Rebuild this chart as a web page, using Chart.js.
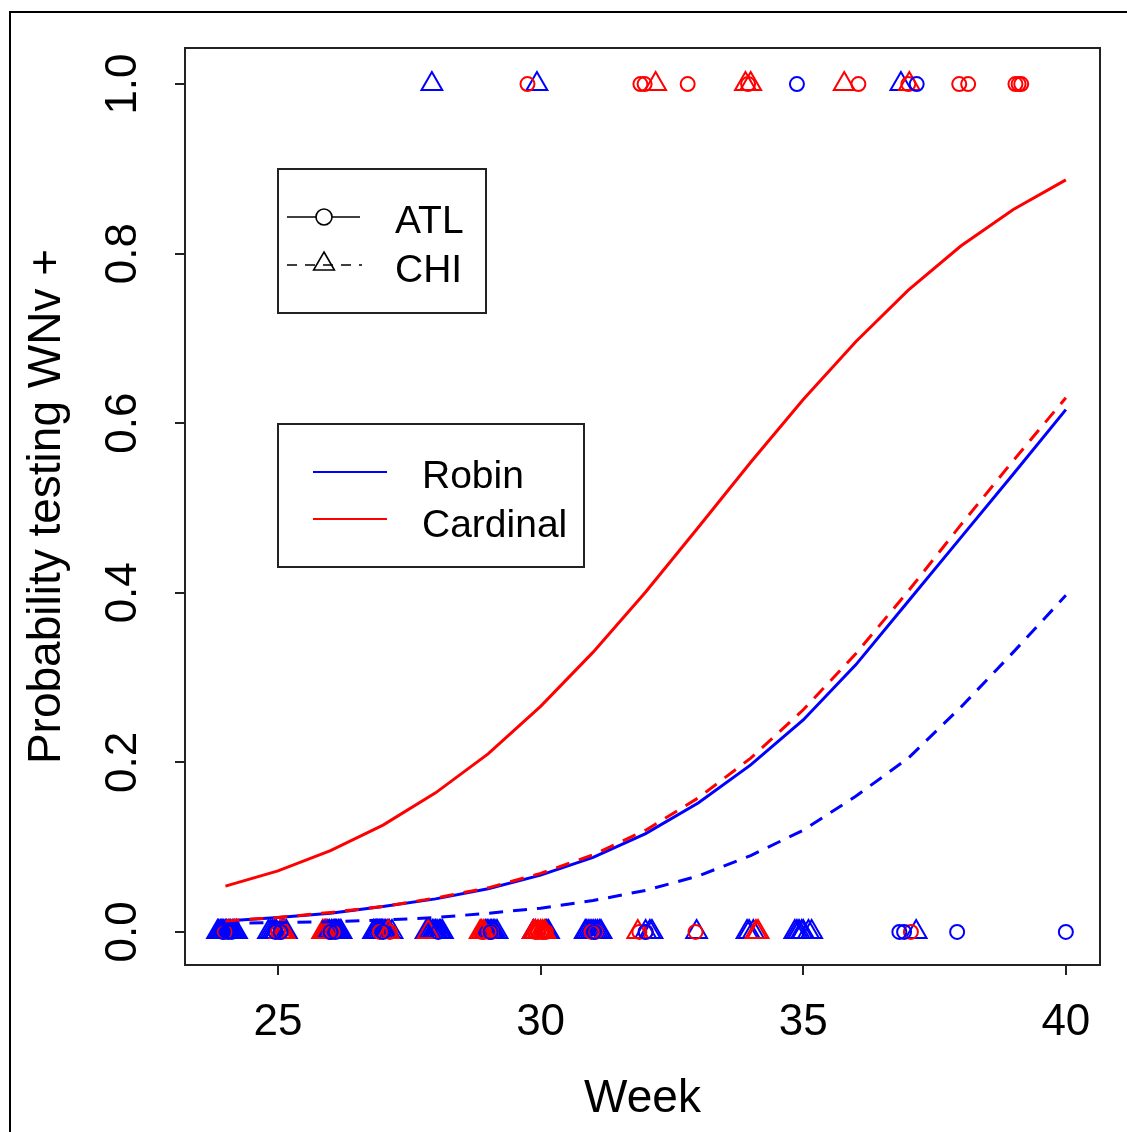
<!DOCTYPE html>
<html>
<head>
<meta charset="utf-8">
<script src="https://cdn.jsdelivr.net/npm/chart.js@4.4.1/dist/chart.umd.min.js"></script>
<style>
  html, body { margin: 0; padding: 0; background: #fff; overflow: hidden; }
  #frame { position: absolute; left: 9px; top: 11px; width: 1200px; height: 1200px; border: 2px solid #000; }
  #wrap { position: absolute; left: 0; top: 0; width: 1127px; height: 1132px; }
</style>
</head>
<body>
<div id="frame"></div>
<div id="wrap"><canvas id="chart"></canvas></div>
<script>
// fitted curves, one value per week
const weeks = [24, 25, 26, 27, 28, 29, 30, 31, 32, 33, 34, 35, 36, 37, 38, 39, 40];
const robinAtl    = [0.013, 0.017, 0.022, 0.030, 0.039, 0.051, 0.067, 0.088, 0.116, 0.152, 0.197, 0.250, 0.315, 0.390, 0.465, 0.540, 0.616];
const robinChi    = [0.010, 0.011, 0.012, 0.014, 0.017, 0.022, 0.028, 0.037, 0.049, 0.066, 0.090, 0.120, 0.160, 0.205, 0.265, 0.330, 0.397];
const cardinalAtl = [0.054, 0.072, 0.096, 0.126, 0.164, 0.210, 0.266, 0.330, 0.401, 0.477, 0.554, 0.628, 0.696, 0.757, 0.809, 0.852, 0.887];
const cardinalChi = [0.013, 0.017, 0.023, 0.030, 0.040, 0.052, 0.069, 0.091, 0.120, 0.158, 0.205, 0.262, 0.328, 0.402, 0.480, 0.556, 0.630];

// observed birds (jittered week), positives and negatives
const robinAtlPos    = [34.88, 37.16];
const robinAtlNeg    = [23.95, 24.05, 24.12, 24.95, 25.05, 26.0, 26.1, 27.0, 28.05, 29.05, 31.02, 32.0, 36.83, 36.92, 37.93, 40.0];
const robinChiPos    = [27.93, 29.93, 36.86];
const robinChiNeg    = [23.85, 23.87, 23.9, 23.92, 23.95, 23.97, 24.0, 24.02, 24.05, 24.07, 24.1, 24.13, 24.16, 24.18, 24.21,
                        24.82, 24.86, 24.9, 24.94, 24.97, 25.08, 25.1, 25.13, 25.16,
                        25.9, 25.95, 25.98, 26.02, 26.05, 26.08, 26.1, 26.12, 26.15, 26.18, 26.2,
                        26.82, 26.85, 26.88, 26.9, 26.94, 26.98, 27.02, 27.05, 27.08, 27.12, 27.17,
                        27.82, 27.85, 27.88, 27.9, 27.94, 27.97, 28.0, 28.03, 28.07, 28.1, 28.13,
                        28.95, 28.98, 29.0, 29.04, 29.07, 29.1, 29.13, 29.17,
                        29.86, 29.9, 30.1, 30.12, 30.15,
                        30.85, 30.88, 30.92, 30.96, 31.0, 31.04, 31.08, 31.12, 31.15,
                        32.0, 32.08, 32.12, 32.97, 33.93, 33.97, 34.05,
                        34.84, 34.88, 34.92, 34.97, 35.0, 35.1, 35.16, 37.15];
const cardinalAtlPos = [29.75, 31.9, 31.98, 32.8, 33.95, 36.05, 37.0, 37.97, 38.14, 39.04, 39.1, 39.15];
const cardinalAtlNeg = [23.98, 25.0, 25.06, 25.98, 26.04, 26.94, 27.13, 28.88, 28.92, 29.02, 29.06, 29.9, 29.95, 30.02, 30.06, 30.1, 30.97, 31.04, 31.88, 32.0, 32.95, 37.05];
const cardinalChiPos = [32.19, 33.9, 34.0, 35.78, 37.02];
const cardinalChiNeg = [25.04, 25.08, 25.12, 25.85, 25.88, 25.92, 27.1, 27.86, 28.85, 28.88, 28.92, 29.86, 29.9, 29.95, 30.0, 30.04, 30.08, 31.85, 34.1, 34.14];

const xTicks = [25, 30, 35, 40];
const yTicks = [0, 0.2, 0.4, 0.6, 0.8, 1.0];

const BLUE = '#0000ff';
const RED = '#ff0000';
const FONT = 'Liberation Sans, Arial, sans-serif';

const curve = vals => weeks.map((w, i) => ({ x: w, y: vals[i] }));
const obs = (pos, neg) => pos.map(w => ({ x: w, y: 1 })).concat(neg.map(w => ({ x: w, y: 0 })));

function lineSet(label, vals, color, dashed) {
    return {
        type: 'line', label, data: curve(vals),
        borderColor: color, borderWidth: 3, borderDash: dashed ? [14, 10] : [],
        pointRadius: 0, tension: 0, fill: false
    };
}
function pointSet(label, data, color, style) {
    return {
        type: 'scatter', label, data,
        pointStyle: style, pointRadius: style === 'triangle' ? 12 : 7,
        borderColor: color, backgroundColor: 'rgba(0,0,0,0)', pointBorderWidth: 2,
        showLine: false
    };
}

const boxAndLegends = {
    id: 'boxAndLegends',
    afterDraw(chart) {
        const ctx = chart.ctx;
        const a = chart.chartArea;
        ctx.save();
        ctx.strokeStyle = '#222';
        ctx.lineWidth = 2;
        ctx.strokeRect(a.left, a.top, a.right - a.left, a.bottom - a.top);

        // rotated y tick labels
        const ys = chart.scales.y;
        ctx.fillStyle = '#000';
        ctx.font = '44px ' + FONT;
        ctx.textAlign = 'center';
        ctx.textBaseline = 'middle';
        yTicks.forEach(v => {
            ctx.save();
            ctx.translate(124, ys.getPixelForValue(v));
            ctx.rotate(-Math.PI / 2);
            ctx.fillText(v.toFixed(1), 0, 0);
            ctx.restore();
        });

        // legend: site
        ctx.strokeStyle = '#222';
        ctx.lineWidth = 2;
        ctx.strokeRect(278, 169, 208, 144);
        ctx.strokeStyle = '#000';
        ctx.lineWidth = 1.6;
        ctx.beginPath(); ctx.moveTo(287, 217); ctx.lineTo(360, 217); ctx.stroke();
        ctx.setLineDash([10, 8]);
        ctx.beginPath(); ctx.moveTo(287, 265); ctx.lineTo(362, 265); ctx.stroke();
        ctx.setLineDash([]);
        ctx.fillStyle = '#fff';
        ctx.beginPath(); ctx.arc(324, 217, 8, 0, Math.PI * 2); ctx.fill(); ctx.stroke();
        const r = 12;
        ctx.beginPath();
        ctx.moveTo(324, 264 - r);
        ctx.lineTo(324 + r * Math.sqrt(3) / 2, 264 + r / 2);
        ctx.lineTo(324 - r * Math.sqrt(3) / 2, 264 + r / 2);
        ctx.closePath(); ctx.stroke();
        ctx.fillStyle = '#000';
        ctx.font = '39px ' + FONT;
        ctx.textAlign = 'left';
        ctx.textBaseline = 'alphabetic';
        ctx.fillText('ATL', 395, 233);
        ctx.fillText('CHI', 395, 282);

        // legend: species
        ctx.strokeStyle = '#222';
        ctx.lineWidth = 2;
        ctx.strokeRect(278, 424, 306, 143);
        ctx.strokeStyle = BLUE;
        ctx.beginPath(); ctx.moveTo(313, 472); ctx.lineTo(387, 472); ctx.stroke();
        ctx.strokeStyle = RED;
        ctx.beginPath(); ctx.moveTo(313, 519); ctx.lineTo(387, 519); ctx.stroke();
        ctx.fillText('Robin', 422, 488);
        ctx.fillText('Cardinal', 422, 537);
        ctx.restore();
    }
};

new Chart(document.getElementById('chart'), {
    type: 'scatter',
    data: {
        datasets: [
            lineSet('Cardinal ATL', cardinalAtl, RED, false),
            lineSet('Cardinal CHI', cardinalChi, RED, true),
            lineSet('Robin ATL', robinAtl, BLUE, false),
            lineSet('Robin CHI', robinChi, BLUE, true),
            pointSet('Robin ATL obs', obs(robinAtlPos, robinAtlNeg), BLUE, 'circle'),
            pointSet('Cardinal ATL obs', obs(cardinalAtlPos, cardinalAtlNeg), RED, 'circle'),
            pointSet('Cardinal CHI obs', obs(cardinalChiPos, cardinalChiNeg), RED, 'triangle'),
            pointSet('Robin CHI obs', obs(robinChiPos, robinChiNeg), BLUE, 'triangle')
        ]
    },
    options: {
        responsive: true,
        maintainAspectRatio: false,
        animation: false,
        layout: { padding: { top: 48, right: 27, left: 0, bottom: 0 } },
        plugins: { legend: { display: false }, tooltip: { enabled: false } },
        scales: {
            x: {
                type: 'linear', min: 23.23, max: 40.65,
                afterBuildTicks: s => { s.ticks = xTicks.map(v => ({ value: v })); },
                afterFit: s => { s.height = 167; },
                grid: { drawOnChartArea: false, tickLength: 10, color: '#222', lineWidth: 2 },
                border: { display: false },
                ticks: { color: '#000', font: { size: 44, family: FONT }, padding: 21, maxRotation: 0 },
                title: { display: true, text: 'Week', color: '#000', font: { size: 46, family: FONT }, padding: { bottom: 5 } }
            },
            y: {
                type: 'linear', min: -0.039, max: 1.0425,
                afterBuildTicks: s => { s.ticks = yTicks.map(v => ({ value: v })); },
                afterFit: s => { s.width = 185; },
                grid: { drawOnChartArea: false, tickLength: 10, color: '#222', lineWidth: 2 },
                border: { display: false },
                ticks: { display: false },
                title: { display: true, text: 'Probability testing WNv +', color: '#000', font: { size: 46, family: FONT }, padding: { top: 20 } }
            }
        }
    },
    plugins: [boxAndLegends]
});
</script>
</body>
</html>
